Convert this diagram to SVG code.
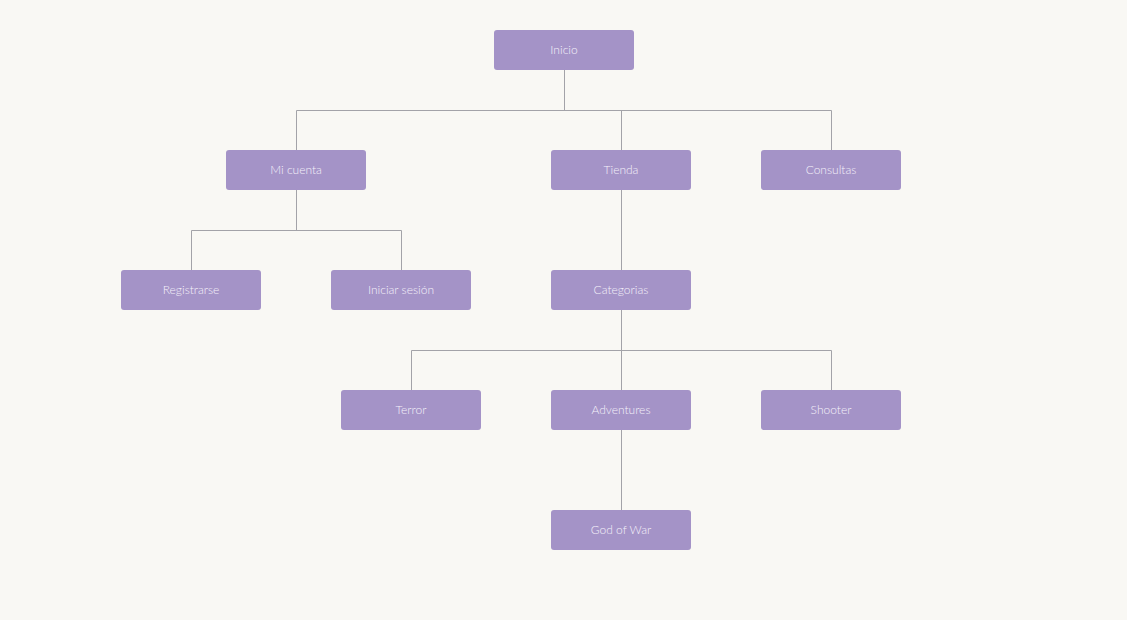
<svg xmlns="http://www.w3.org/2000/svg" width="1127" height="620" viewBox="0 0 1127 620">
<style>
.n rect{fill:#a493c7;}
.n text{fill:#f4f1fa;font-family:Lato,"Open Sans","Liberation Sans",sans-serif;font-size:12px;font-weight:300;text-anchor:middle;dominant-baseline:central;}
.c path{fill:none;stroke:#a3a3a8;stroke-width:1;}
</style>
<rect width="1127" height="620" fill="#f9f8f4"/>
<g id="connectors" class="c">
<path d="M564.5 70V110.5M296.5 150V110.5H831.5V150M621.5 110.5V150"/>
<path d="M296.5 190V230.5M191.5 270V230.5H401.5V270"/>
<path d="M621.5 190V270"/>
<path d="M621.5 310V390M411.5 390V350.5H831.5V390"/>
<path d="M621.5 430V510"/>
</g>
<g id="inicio" class="n"><rect x="494" y="30" width="140" height="40" rx="3"/><text x="564" y="49">Inicio</text></g>
<g id="micuenta" class="n"><rect x="226" y="150" width="140" height="40" rx="3"/><text x="296" y="169">Mi cuenta</text></g>
<g id="tienda" class="n"><rect x="551" y="150" width="140" height="40" rx="3"/><text x="621" y="169">Tienda</text></g>
<g id="consultas" class="n"><rect x="761" y="150" width="140" height="40" rx="3"/><text x="831" y="169">Consultas</text></g>
<g id="registrarse" class="n"><rect x="121" y="270" width="140" height="40" rx="3"/><text x="191" y="289">Registrarse</text></g>
<g id="iniciarsesion" class="n"><rect x="331" y="270" width="140" height="40" rx="3"/><text x="401" y="289">Iniciar sesión</text></g>
<g id="categorias" class="n"><rect x="551" y="270" width="140" height="40" rx="3"/><text x="621" y="289">Categorias</text></g>
<g id="terror" class="n"><rect x="341" y="390" width="140" height="40" rx="3"/><text x="411" y="409">Terror</text></g>
<g id="adventures" class="n"><rect x="551" y="390" width="140" height="40" rx="3"/><text x="621" y="409">Adventures</text></g>
<g id="shooter" class="n"><rect x="761" y="390" width="140" height="40" rx="3"/><text x="831" y="409">Shooter</text></g>
<g id="godofwar" class="n"><rect x="551" y="510" width="140" height="40" rx="3"/><text x="621" y="529">God of War</text></g>
</svg>
